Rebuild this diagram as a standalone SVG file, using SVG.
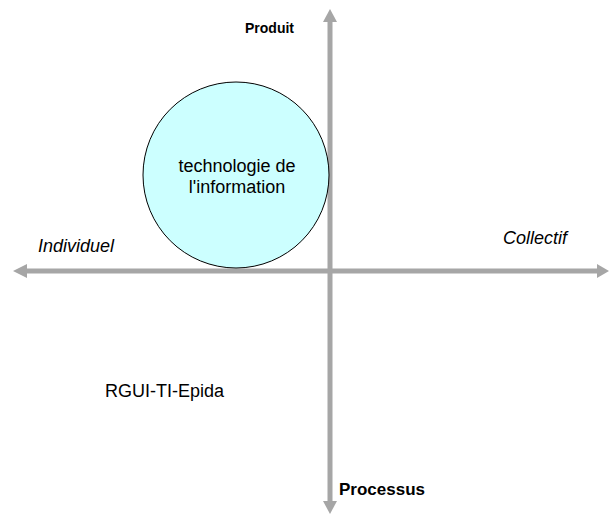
<svg xmlns="http://www.w3.org/2000/svg" width="610" height="516" viewBox="0 0 610 516">
<style>
.ax{stroke:#a6a6a6;stroke-width:5;fill:none}
.ah{fill:#a6a6a6}
text{font-family:"Liberation Sans",Arial,sans-serif;fill:#000}
.b{font-weight:bold}
.i{font-style:italic}
</style>
<rect width="610" height="516" fill="#fff"/>
<g id="connectors">
<line class="ax" x1="26" y1="271" x2="598" y2="271"/>
<polygon class="ah" points="13,271 27,264 27,278"/>
<polygon class="ah" points="609,271 597,264 597,278"/>
<line class="ax" x1="330" y1="20" x2="330" y2="505"/>
<polygon class="ah" points="330,9 323,22 337,22"/>
<polygon class="ah" points="330,514 323,501 337,501"/>
</g>
<g id="circle">
<circle cx="236" cy="175" r="93" fill="#ccffff" stroke="#000" stroke-width="1"/>
<text x="237" y="172" font-size="18" text-anchor="middle">technologie de</text>
<text x="237" y="193" font-size="18" text-anchor="middle">l'information</text>
</g>
<g id="produit"><text class="b" x="245" y="33" font-size="14">Produit</text></g>
<g id="processus"><text class="b" x="339" y="495" font-size="17">Processus</text></g>
<g id="individuel"><text class="i" x="38" y="252" font-size="18">Individuel</text></g>
<g id="collectif"><text class="i" x="503" y="244" font-size="18">Collectif</text></g>
<g id="rgui"><text x="105" y="397" font-size="18">RGUI-TI-Epida</text></g>
</svg>
